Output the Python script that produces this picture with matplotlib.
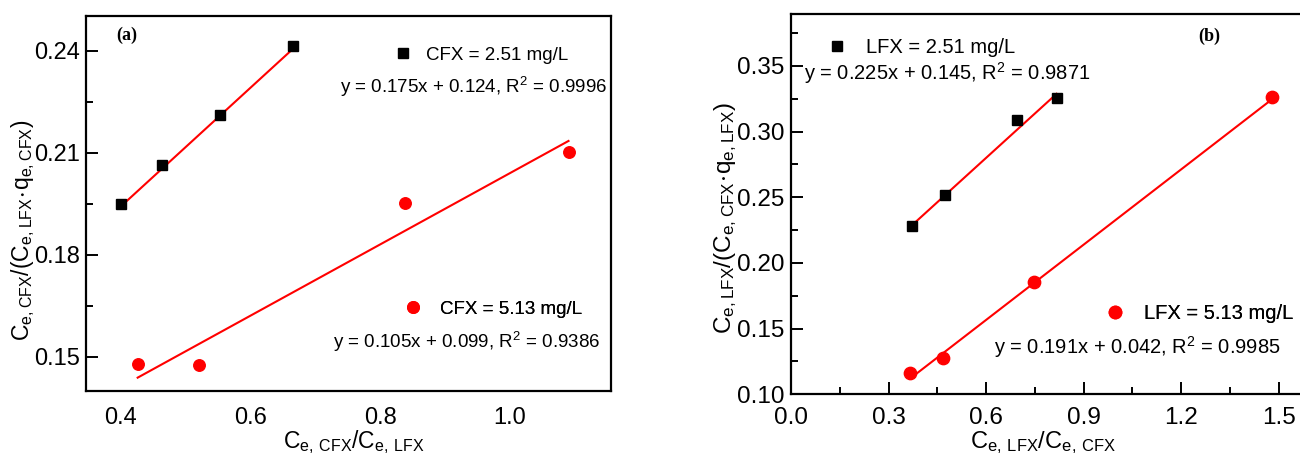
import matplotlib
matplotlib.use('Agg')
import matplotlib.pyplot as plt
from matplotlib.ticker import MultipleLocator, FormatStrFormatter
import numpy as np

plt.rcParams['font.family'] = ['Liberation Sans', 'DejaVu Sans']
plt.rcParams['mathtext.default'] = 'regular'

# ---------------- data ----------------
# panel (a): CFX
cfx_x_251 = [0.401, 0.464, 0.553, 0.666]
cfx_y_251 = [0.1949, 0.2063, 0.2212, 0.2414]
cfx_x_513 = [0.427, 0.521, 0.838, 1.090]
cfx_y_513 = [0.1478, 0.1477, 0.1953, 0.2103]
# panel (b): LFX
lfx_x_251 = [0.373, 0.474, 0.696, 0.817]
lfx_y_251 = [0.2284, 0.2518, 0.3086, 0.3254]
lfx_x_513 = [0.366, 0.466, 0.748, 1.480]
lfx_y_513 = [0.1160, 0.1274, 0.1858, 0.3264]

# linear fits (slope, intercept) and R^2 as printed
fit_cfx_251 = [0.175, 0.124]
fit_cfx_513 = [0.105, 0.099]
fit_lfx_251 = [0.225, 0.145]
fit_lfx_513 = [0.191, 0.042]
r2_cfx_251 = "0.9996"
r2_cfx_513 = "0.9386"
r2_lfx_251 = "0.9871"
r2_lfx_513 = "0.9985"

label_cfx_251 = "CFX = 2.51 mg/L"
label_cfx_513 = "CFX = 5.13 mg/L"
label_lfx_251 = "LFX = 2.51 mg/L"
label_lfx_513 = "LFX = 5.13 mg/L"

a_xticks = [0.4, 0.6, 0.8, 1.0]
a_yticks = [0.15, 0.18, 0.21, 0.24]
b_xticks = [0.0, 0.3, 0.6, 0.9, 1.2, 1.5]
b_yticks = [0.10, 0.15, 0.20, 0.25, 0.30, 0.35]

RED = '#ff0000'


def eq_text(fit, r2):
    return 'y = %.3fx + %.3f, R$^{2}$ = %s' % (fit[0], fit[1], r2)


def fit_line(ax, xs, fit):
    xx = np.array([min(xs), max(xs)])
    ax.plot(xx, fit[0] * xx + fit[1], color=RED, lw=1.5, zorder=2)


def style_axes(ax, lw=1.6):
    for sp in ax.spines.values():
        sp.set_linewidth(lw)


fig = plt.figure(figsize=(13, 4.57), dpi=100)

# ---------------- panel (a) ----------------
ax1 = fig.add_axes([0.0659, 0.1451, 0.4039, 0.8206])
style_axes(ax1)
h1, = ax1.plot(cfx_x_251, cfx_y_251, ls='none', marker='s', ms=7.4, color='black', zorder=3)
h2, = ax1.plot(cfx_x_513, cfx_y_513, ls='none', marker='o', ms=8.3, color=RED, zorder=3)
fit_line(ax1, cfx_x_251, fit_cfx_251)
fit_line(ax1, cfx_x_513, fit_cfx_513)
ax1.set_xlim(0.347, 1.155)
ax1.set_ylim(0.14, 0.2503)
ax1.set_xticks(a_xticks)
ax1.xaxis.set_major_formatter(FormatStrFormatter('%.1f'))
ax1.set_yticks(a_yticks)
ax1.yaxis.set_major_formatter(FormatStrFormatter('%.2f'))
ax1.yaxis.set_minor_locator(MultipleLocator(0.015))
ax1.tick_params(axis='y', which='major', direction='in', length=8.5, width=1.4, labelsize=17, pad=4)
ax1.tick_params(axis='y', which='minor', direction='in', length=5, width=1.4)
ax1.tick_params(axis='x', which='both', length=0, labelsize=17, pad=12)

ax1.set_ylabel(r'$C_{e,CFX}/(C_{e,LFX}\!\cdot\! q_{e,CFX})$', fontsize=16.5)
ax1.yaxis.set_label_coords(-0.093, 0.4285)
ax1.set_xlabel(r'$C_{e,\,CFX}/C_{e,\,LFX}$', fontsize=16.5)
ax1.xaxis.set_label_coords(0.511, -0.1)

ax1.text(0.410, 0.2446, '(a)', fontfamily='Liberation Serif', fontweight='bold',
         fontsize=13, ha='center', va='center')

lg = ax1.legend([h1], [label_cfx_251], loc='center left', bbox_to_anchor=(0.5895, 0.895),
                frameon=False, borderpad=0, borderaxespad=0, handlelength=0.8,
                handletextpad=0.84, fontsize=13.5, numpoints=1)
ax1.add_artist(lg)
lg = ax1.legend([h2], [label_cfx_513], loc='center left', bbox_to_anchor=(0.6088, 0.217),
                frameon=False, borderpad=0, borderaxespad=0, handlelength=0.8,
                handletextpad=1.04, fontsize=13.5, numpoints=1)
ax1.add_artist(lg)
ax1.text(1.150, 0.2294, eq_text(fit_cfx_251, r2_cfx_251), fontsize=13.5, ha='right', va='center')
ax1.text(1.138, 0.1544, eq_text(fit_cfx_513, r2_cfx_513), fontsize=13.5, ha='right', va='center')

# ---------------- panel (b) ----------------
ax2 = fig.add_axes([0.6085, 0.1372, 0.4, 0.8322])
style_axes(ax2)
g1, = ax2.plot(lfx_x_251, lfx_y_251, ls='none', marker='s', ms=7.8, color='black', zorder=3)
g2, = ax2.plot(lfx_x_513, lfx_y_513, ls='none', marker='o', ms=8.9, color=RED, zorder=3)
fit_line(ax2, lfx_x_251, fit_lfx_251)
fit_line(ax2, lfx_x_513, fit_lfx_513)
ax2.set_xlim(0.0, 1.6)
ax2.set_ylim(0.10, 0.3896)
ax2.set_xticks(b_xticks)
ax2.xaxis.set_major_formatter(FormatStrFormatter('%.1f'))
ax2.xaxis.set_minor_locator(MultipleLocator(0.15))
ax2.set_yticks(b_yticks)
ax2.yaxis.set_major_formatter(FormatStrFormatter('%.2f'))
ax2.yaxis.set_minor_locator(MultipleLocator(0.025))
ax2.tick_params(axis='both', which='major', direction='in', length=8.5, width=1.4, labelsize=17.5)
ax2.tick_params(axis='both', which='minor', direction='in', length=5, width=1.4)
ax2.tick_params(axis='y', which='major', pad=4.5)
ax2.tick_params(axis='x', which='major', pad=9)

ax2.set_ylabel(r'$C_{e,LFX}/(C_{e,CFX}\!\cdot\! q_{e,LFX})$', fontsize=17.5)
ax2.yaxis.set_label_coords(-0.101, 0.464)
ax2.set_xlabel(r'$C_{e,\,LFX}/C_{e,\,CFX}$', fontsize=17)
ax2.xaxis.set_label_coords(0.485, -0.092)

ax2.text(1.286, 0.3729, '(b)', fontfamily='Liberation Serif', fontweight='bold',
         fontsize=13, ha='center', va='center')

lg = ax2.legend([g1], [label_lfx_251], loc='center left', bbox_to_anchor=(0.0735, 0.911),
                frameon=False, borderpad=0, borderaxespad=0, handlelength=0.8,
                handletextpad=1.04, fontsize=14.5, numpoints=1)
ax2.add_artist(lg)
lg = ax2.legend([g2], [label_lfx_513], loc='center left', bbox_to_anchor=(0.608, 0.213),
                frameon=False, borderpad=0, borderaxespad=0, handlelength=0.8,
                handletextpad=1.04, fontsize=14.5, numpoints=1)
ax2.add_artist(lg)
ax2.text(0.040, 0.3445, eq_text(fit_lfx_251, r2_lfx_251), fontsize=14.5, ha='left', va='center')
ax2.text(0.624, 0.1363, eq_text(fit_lfx_513, r2_lfx_513), fontsize=14.5, ha='left', va='center')

fig.savefig('out.png', dpi=100)
